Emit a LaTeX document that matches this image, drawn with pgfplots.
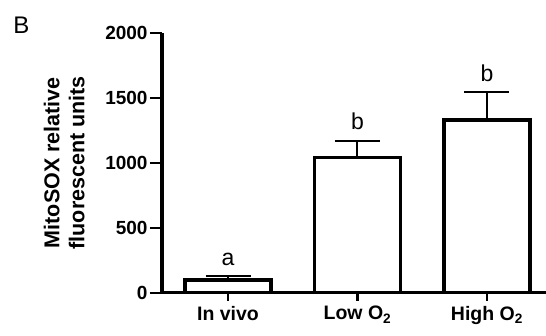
\documentclass[border=0pt]{standalone}
\usepackage{pgfplots}
\pgfplotsset{compat=1.18}
\usepackage{fontspec}
\setmainfont{Liberation Sans}
\begin{document}
\begin{tikzpicture}
\useasboundingbox (-162pt,-42.5pt) rectangle (384pt,292.5pt);
\begin{axis}[
  scale only axis, width=384pt, height=259.5pt,
  xmin=-0.51, xmax=2.456, ymin=0, ymax=2000,
  axis x line=bottom, axis y line=left,
  axis line style={-, line width=3.8pt},
  xtick={0,1,2},
  xticklabels={In vivo, Low O\textsubscript{2}, High O\textsubscript{2}},
  ytick={0,500,1000,1500,2000},
  tick align=outside,
  ytick style={line width=2pt, black, /pgfplots/major tick length=12pt},
  xtick style={line width=2.5pt, black, /pgfplots/major tick length=8pt},
  /pgf/number format/assume math mode=true,
  /pgf/number format/1000 sep={},
  yticklabel style={font=\bfseries\fontsize{19}{21}\selectfont, xshift=-9pt, inner sep=1pt},
  xticklabel style={font=\bfseries\fontsize{19.5}{22}\selectfont, yshift=-6pt},
  ylabel={MitoSOX relative\\fluorescent units},
  ylabel style={font=\bfseries\fontsize{21.5}{25}\selectfont, align=center,
    at={(axis description cs:-0.255,0.5)}, anchor=center},
  clip=false,
]
\addplot[ybar, bar width=86pt, fill=white, draw=black, line width=3.5pt,
  error bars/.cd, y dir=plus, y explicit,
  error bar style={line width=2pt},
  error mark options={rotate=90, mark size=22.5pt, line width=2pt}]
  coordinates {
    (0,95) +- (0,32)
    (1,1042) +- (0,128)
    (2,1330) +- (0,212)
  };
\addplot[only marks, mark=none, nodes near coords, point meta=explicit symbolic,
  every node near coord/.append style={anchor=base, yshift=11pt,
    font=\fontsize{23}{26}\selectfont, black}]
  coordinates {
    (0,127) [a]
    (1,1170) [b]
    (2,1542) [b]
  };
\end{axis}
\node[font=\fontsize{24}{28}\selectfont] at (-140.5pt,267.5pt) {B};
\end{tikzpicture}
\end{document}
